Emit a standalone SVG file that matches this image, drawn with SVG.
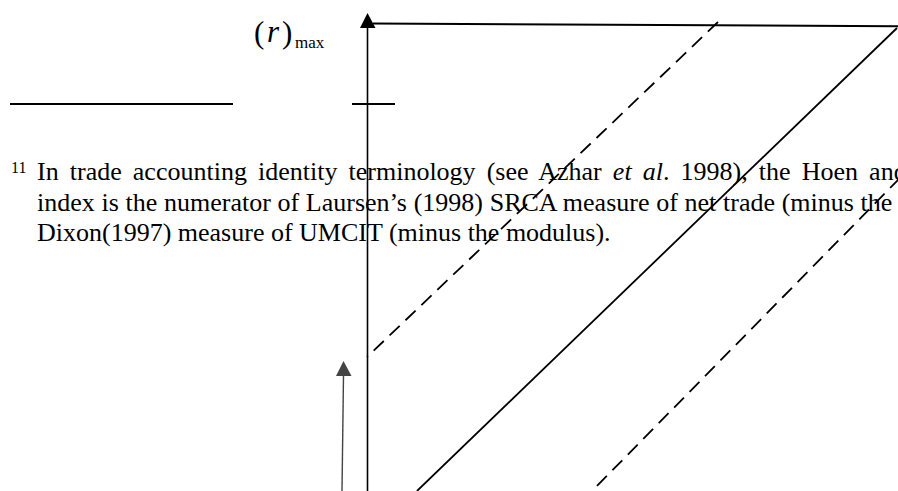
<svg xmlns="http://www.w3.org/2000/svg" width="898" height="491" viewBox="0 0 898 491">
<style>
.t{font-family:"Liberation Serif","Times New Roman",serif;fill:#000}
.ln{stroke:#000;fill:none}
.dash{stroke:#000;fill:none;stroke-width:1.8;stroke-dasharray:14 8}
</style>
<defs>
<marker id="ah" viewBox="0 0 16 15" refX="8" refY="0" markerWidth="16" markerHeight="15" markerUnits="userSpaceOnUse" orient="auto-start-reverse">
<path d="M0,15 L8,0 L16,15 Z" fill="#000"/>
</marker>
</defs>
<rect width="898" height="491" fill="#fff"/>
<g id="footnote">
<text class="t" x="11" y="173" font-size="16">11</text>
<text class="t" x="37" y="180" font-size="26" word-spacing="4.6">In trade accounting identity terminology (see Azhar <tspan font-style="italic">et al</tspan>. 1998), the Hoen and</text>
<text class="t" x="37" y="210.5" font-size="26" word-spacing="0.2">index is the numerator of Laursen’s (1998) SRCA measure of net trade (minus the</text>
<text class="t" x="37" y="240.5" font-size="26">Dixon(1997) measure of UMCIT (minus the modulus).</text>
</g>
<g id="label-rmax">
<text class="t" x="254" y="42.5" font-size="31">(</text>
<text class="t" x="267" y="41.5" font-size="31" font-style="italic">r</text>
<text class="t" x="282" y="42.5" font-size="31">)</text>
<text class="t" x="295" y="48" font-size="17">max</text>
</g>
<g id="connectors">
<line class="ln" x1="10" y1="104" x2="233" y2="104" stroke-width="2"/>
<line class="ln" x1="352" y1="104" x2="395" y2="104" stroke-width="2"/>
<line class="ln" x1="367.5" y1="491" x2="367.5" y2="28" stroke-width="1.6"/>
<path d="M360,28 L367.5,13 L375.5,28 Z" fill="#000"/>
<line class="ln" x1="373" y1="23.5" x2="898" y2="26.3" stroke-width="2"/>
<line class="ln" x1="897" y1="28" x2="417" y2="491" stroke-width="1.8"/>
<line class="dash" x1="718" y1="22" x2="367" y2="357"/>
<line class="dash" x1="900" y1="178" x2="592" y2="491"/>
<line x1="342" y1="491" x2="343.5" y2="375" stroke="#444" stroke-width="1.4"/>
<path d="M336,376 L343.5,361 L351.5,376 Z" fill="#444"/>
</g>
</svg>
